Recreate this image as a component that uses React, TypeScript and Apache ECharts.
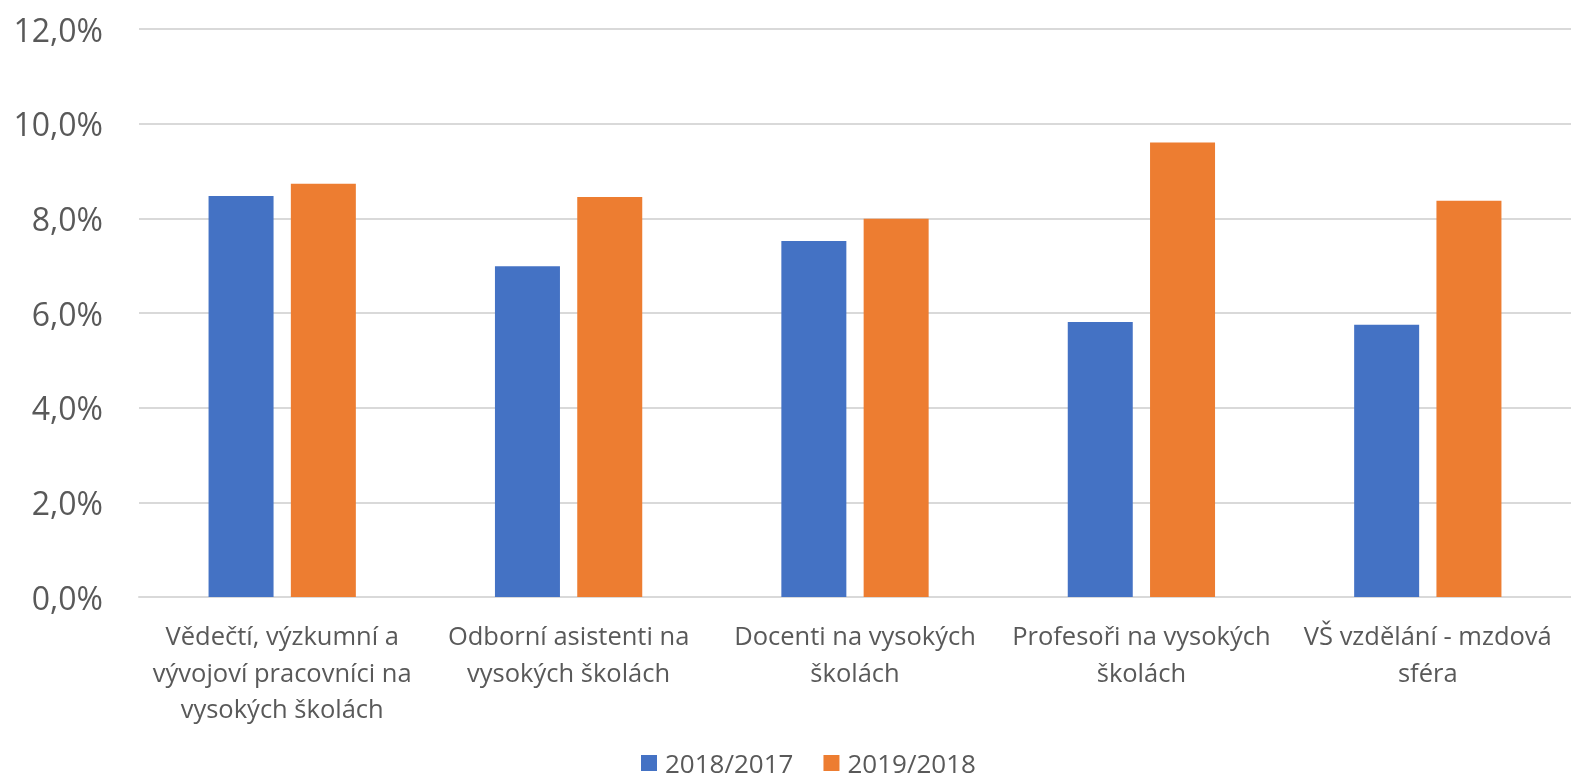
import React, { useEffect, useRef } from "react";
import * as echarts from "echarts";

const categories = [
  "Vědečtí, výzkumní a\nvývojoví pracovníci na\nvysokých školách",
  "Odborní asistenti na\nvysokých školách",
  "Docenti na vysokých\nškolách",
  "Profesoři na vysokých\nškolách",
  "VŠ vzdělání - mzdová\nsféra",
];
const series2018 = [8.47, 6.99, 7.52, 5.81, 5.75];
const series2019 = [8.73, 8.45, 7.99, 9.6, 8.37];
const seriesNames = ["2018/2017", "2019/2018"];

export default function App() {
  const ref = useRef<HTMLDivElement>(null);
  useEffect(() => {
    if (!ref.current) return;
    const chart = echarts.init(ref.current, undefined, { renderer: "svg" });
    const font = "'Open Sans', 'Noto Sans', sans-serif";
    chart.setOption({
      animation: false,
      textStyle: { fontFamily: font },
      grid: { left: 139, right: -14, top: 29, bottom: 181, containLabel: false },
      legend: {
        bottom: 2,
        left: 641,
        padding: 0,
        itemWidth: 16,
        itemHeight: 16,
        itemGap: 30,
        icon: "rect",
        textStyle: {
          fontSize: 26,
          lineHeight: 26,
          color: "#595959",
          fontFamily: font,
          padding: [0, 0, 0, 3],
        },
        data: seriesNames,
      },
      xAxis: {
        type: "category",
        data: categories,
        axisLine: { lineStyle: { color: "#D9D9D9", width: 2 } },
        axisTick: { show: false },
        axisLabel: {
          fontSize: 25.5,
          color: "#595959",
          lineHeight: 36.5,
          margin: 20,
          interval: 0,
          fontFamily: font,
        },
      },
      yAxis: {
        type: "value",
        min: 0,
        max: 12,
        interval: 2,
        axisLine: { show: false },
        axisTick: { show: false },
        splitLine: { lineStyle: { color: "#D9D9D9", width: 2 } },
        axisLabel: {
          fontSize: 32,
          color: "#595959",
          margin: 36,
          fontFamily: font,
          formatter: (v: number) => v.toFixed(1).replace(".", ",") + "%",
        },
      },
      series: [
        {
          name: seriesNames[0],
          type: "bar",
          data: series2018,
          barWidth: 65,
          barGap: "26.6%",
          itemStyle: { color: "#4472C4" },
        },
        {
          name: seriesNames[1],
          type: "bar",
          data: series2019,
          barWidth: 65,
          barGap: "26.6%",
          itemStyle: { color: "#ED7D31" },
        },
      ],
    });
    return () => chart.dispose();
  }, []);
  return (
    <div
      ref={ref}
      style={{ position: "fixed", left: 0, top: 0, width: 1571, height: 778, overflow: "hidden" }}
    />
  );
}
